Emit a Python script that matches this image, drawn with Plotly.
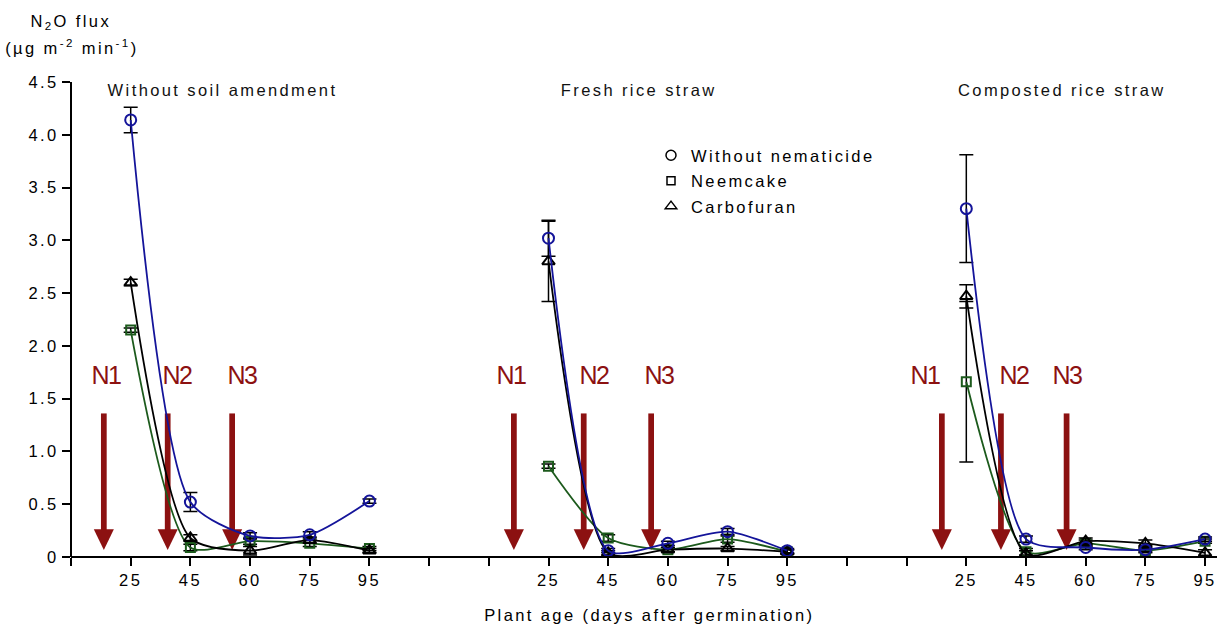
import plotly.graph_objects as go

# ---------------- data ----------------
days = [25, 45, 60, 75, 95]
panel_titles = ["Without soil amendment", "Fresh rice straw", "Composted rice straw"]
series_names = ["Without nematicide", "Neemcake", "Carbofuran"]

# Panel 1: without soil amendment
p1_without = [4.14, 0.52, 0.20, 0.21, 0.53]
p1_without_err = [0.12, 0.09, 0.03, 0.03, 0.02]
p1_neem = [2.15, 0.09, 0.15, 0.13, 0.08]
p1_neem_err = [0.02, 0.03, 0.03, 0.03, 0.02]
p1_carbo = [2.60, 0.18, 0.06, 0.16, 0.06]
p1_carbo_err = [0.03, 0.03, 0.04, 0.03, 0.02]

# Panel 2: fresh rice straw
p2_without = [3.02, 0.06, 0.13, 0.24, 0.06]
p2_without_err = [0.17, 0.02, 0.02, 0.03, 0.02]
p2_neem = [0.86, 0.18, 0.07, 0.17, 0.05]
p2_neem_err = [0.02, 0.03, 0.02, 0.03, 0.02]
p2_carbo = [2.80, 0.04, 0.07, 0.08, 0.05]
p2_carbo_err = [0.38, 0.02, 0.02, 0.02, 0.02]

# Panel 3: composted rice straw
p3_without = [3.30, 0.17, 0.09, 0.07, 0.17]
p3_without_err = [0.51, 0.03, 0.02, 0.02, 0.02]
p3_neem = [1.66, 0.05, 0.13, 0.06, 0.15]
p3_neem_err = [0.76, 0.03, 0.03, 0.02, 0.02]
p3_carbo = [2.47, 0.03, 0.15, 0.13, 0.04]
p3_carbo_err = [0.11, 0.03, 0.03, 0.03, 0.03]

y_tick_values = [0, 0.5, 1.0, 1.5, 2.0, 2.5, 3.0, 3.5, 4.0, 4.5]
y_tick_labels = ["0", "0.5", "1.0", "1.5", "2.0", "2.5", "3.0", "3.5", "4.0", "4.5"]

application_labels = ["N1", "N2", "N3"]

# ---------------- layout helpers ----------------
panel_offsets = [1, 8, 15]          # category slot of first day in each panel
n_slots = 20
arrow_x = [[0.55, 1.62, 2.70], [7.42, 8.59, 9.72], [14.59, 15.58, 16.68]]
label_x = [[0.59, 1.78, 2.86], [7.37, 8.76, 9.85], [14.30, 15.80, 16.68]]
title_x = [2.53, 9.50, 16.60]

FONT = "Liberation Sans, Arial, Helvetica, sans-serif"
FS = 16.5
BLUE = "#14149a"
GREEN = "#1c5a1c"
BLACK = "#000000"
RED = "#8c1111"

L, R, T, B = 71, 6, 77, 58
W, H = 1223, 628
PW = W - L - R
PH = H - T - B
y_lo, y_hi = -0.123, 4.547
x_lo, x_hi = 0, 19.2


def pxx(px):
    return (px - L) / PW


def pxy(py):
    return (H - B - py) / PH


panels = [
    [(p1_without, p1_without_err), (p1_neem, p1_neem_err), (p1_carbo, p1_carbo_err)],
    [(p2_without, p2_without_err), (p2_neem, p2_neem_err), (p2_carbo, p2_carbo_err)],
    [(p3_without, p3_without_err), (p3_neem, p3_neem_err), (p3_carbo, p3_carbo_err)],
]
styles = [
    dict(color=BLUE, symbol="circle-open", size=11),
    dict(color=GREEN, symbol="square-open", size=9),
    dict(color=BLACK, symbol="triangle-up-open", size=11),
]
draw_order = [1, 2, 0]

fig = go.Figure()

for p, series in enumerate(panels):
    xs = [panel_offsets[p] + i for i in range(len(days))]
    for s in draw_order:
        vals, errs = series[s]
        st = styles[s]
        fig.add_trace(go.Scatter(
            x=xs, y=vals, mode="lines+markers",
            name=series_names[s], showlegend=False,
            line=dict(color=st["color"], width=1.8, shape="spline", smoothing=0.7),
            marker=dict(symbol=st["symbol"], size=st["size"], color=st["color"],
                        line=dict(color=st["color"], width=2)),
            error_y=dict(type="data", array=errs, color=BLACK, thickness=1.5, width=7),
            cliponaxis=False,
        ))

# legend entries
for s in range(3):
    st = styles[s]
    fig.add_trace(go.Scatter(
        x=[None], y=[None], mode="markers", name=series_names[s],
        legendgroup=series_names[s],
        marker=dict(symbol=st["symbol"], size=st["size"] - 1, color=BLACK,
                    line=dict(color=BLACK, width=1.5)),
    ))

# x tick labels (labelled major ticks; unlabelled slots get minor ticks)
major_vals = []
major_text = []
for off in panel_offsets:
    for i, d in enumerate(days):
        major_vals.append(off + i)
        major_text.append(str(d))

shapes = []
annotations = []
# application arrows
for p in range(3):
    for j in range(3):
        a = arrow_x[p][j]
        shapes.append(dict(type="rect", xref="x", yref="y", x0=a - 0.048, x1=a + 0.048,
                           y0=0.25, y1=1.36, fillcolor=RED, line=dict(width=0), layer="below"))
        shapes.append(dict(type="path", xref="x", yref="y",
                           path=f"M {a-0.168},0.262 L {a+0.168},0.262 L {a},0.066 Z",
                           fillcolor=RED, line=dict(width=0), layer="below"))
        annotations.append(dict(x=label_x[p][j], y=1.72, xref="x", yref="y",
                                text=application_labels[j], showarrow=False,
                                font=dict(family="Liberation Sans Narrow, " + FONT, size=25, color=RED),
                                xanchor="center", yanchor="middle"))
    annotations.append(dict(x=title_x[p], y=4.42, xref="x", yref="y", text=panel_titles[p],
                            showarrow=False, font=dict(family=FONT, size=FS, color="#111111"),
                            xanchor="center", yanchor="middle"))

# y axis line (0 to 4.5 only)
shapes.append(dict(type="line", xref="paper", yref="y", x0=0, x1=0, y0=0, y1=4.5,
                   line=dict(color=BLACK, width=2)))

# axis titles
annotations.append(dict(x=pxx(71), y=pxy(22), xref="paper", yref="paper",
                        text="N<sub>2</sub>O flux", showarrow=False,
                        font=dict(family=FONT, size=FS, color=BLACK),
                        xanchor="center", yanchor="middle"))
annotations.append(dict(x=pxx(72), y=pxy(47), xref="paper", yref="paper",
                        text="(µg m<sup>-2</sup> min<sup>-1</sup>)", showarrow=False,
                        font=dict(family=FONT, size=FS, color=BLACK),
                        xanchor="center", yanchor="middle"))
annotations.append(dict(x=pxx(650), y=pxy(615), xref="paper", yref="paper",
                        text="Plant age (days after germination)", showarrow=False,
                        font=dict(family=FONT, size=FS, color=BLACK),
                        xanchor="center", yanchor="middle"))

fig.update_layout(
    width=W, height=H,
    margin=dict(l=L, r=R, t=T, b=B, pad=0),
    paper_bgcolor="white", plot_bgcolor="white",
    font=dict(family=FONT, size=FS, color=BLACK),
    shapes=shapes, annotations=annotations,
    showlegend=True,
    legend=dict(x=pxx(651), y=pxy(138), xanchor="left", yanchor="top",
                bgcolor="rgba(0,0,0,0)", borderwidth=0,
                font=dict(family=FONT, size=FS, color=BLACK),
                traceorder="grouped", tracegroupgap=1),
    xaxis=dict(range=[x_lo, x_hi], tickmode="array", tickvals=major_vals,
               ticktext=major_text, ticks="outside", ticklen=8, tickwidth=2,
               tickcolor=BLACK, showline=True, linecolor=BLACK, linewidth=2,
               anchor="free", position=(0 - y_lo) / (y_hi - y_lo),
               showgrid=False, zeroline=False,
               minor=dict(tick0=0, dtick=1, ticks="outside", ticklen=8, tickwidth=2,
                          tickcolor=BLACK, showgrid=False),
               tickfont=dict(family=FONT, size=FS, color=BLACK)),
    yaxis=dict(range=[y_lo, y_hi], tickmode="array", tickvals=y_tick_values,
               ticktext=y_tick_labels, ticks="outside", ticklen=8, tickwidth=2,
               tickcolor=BLACK, showline=False, showgrid=False, zeroline=False,
               tickfont=dict(family=FONT, size=FS, color=BLACK)),
)

post = """
var gd = document.getElementById('{plot_id}');
gd.querySelectorAll('text').forEach(function(t){
  var s = (t.textContent || '').trim();
  if (/^N[123]$/.test(s)) { t.style.letterSpacing = '-1.5px'; }
  else { t.style.letterSpacing = '2.4px'; }
});
gd.querySelectorAll('.legend [clip-path]').forEach(function(e){ e.removeAttribute('clip-path'); });
gd.querySelectorAll('.legend .scrollbox').forEach(function(e){ e.removeAttribute('clip-path'); });
"""

fig.write_html("out.html", post_script=post)
